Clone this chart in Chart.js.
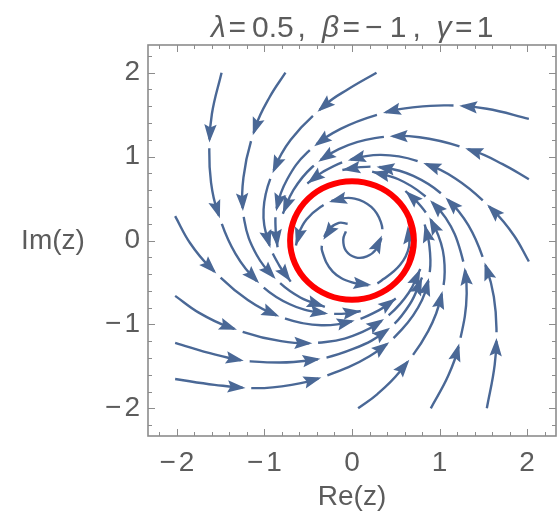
<!DOCTYPE html>
<html><head><meta charset="utf-8">
<script src="https://cdn.jsdelivr.net/npm/chart.js@4.4.1/dist/chart.umd.min.js"></script>
<style>html,body{margin:0;padding:0;background:#fff;overflow:hidden}#wrap{width:557px;height:524px;position:relative}</style>
</head><body><div id="wrap"><canvas id="c" width="557" height="524"></canvas></div>
<script>
// ---------------- data ----------------
const titlePieces = ["λ", "=", "0.5", ",", "β", "=", "−", "1", ",", "γ", "=", "1"];
const titleItalic = [true, false, false, false, true, false, false, false, false, true, false, false];
const xLabel = "Re(z)";
const yLabel = "Im(z)";
const xTickValues = [-2, -1, 0, 1, 2];
const xTickLabels = ["−2", "−1", "0", "1", "2"];
const yTickValues = [-2, -1, 0, 1, 2];
const yTickLabels = ["−2", "−1", "0", "1", "2"];
const minorTickValues = [-2.2,-1.8,-1.6,-1.4,-1.2,-0.8,-0.6,-0.4,-0.2,0.2,0.4,0.6,0.8,1.2,1.4,1.6,1.8,2.2];

// streamlines entering from the top edge
const streamT1 = [[-1.49,2.0],[-1.60,1.51],[-1.63,1.07],[-1.61,0.69],[-1.54,0.36],[-1.33,-0.16],[-1.04,-0.53],[-0.71,-0.76],[-0.37,-0.86],[-0.05,-0.87],[0.10,-0.84]];
const streamT2 = [[-0.76,2.0],[-0.94,1.71],[-1.10,1.36],[-1.24,0.75],[-1.23,0.24],[-1.09,-0.17],[-0.86,-0.47],[-0.59,-0.68],[-0.31,-0.79]];
const streamT3 = [[0.28,2.0],[-0.05,1.80],[-0.29,1.63],[-0.70,1.20],[-0.92,0.77],[-1.01,0.37],[-0.96,0.0],[-0.83,-0.30],[-0.70,-0.49]];
// streamlines entering from the right edge
const streamR1 = [[2.02,1.45],[1.54,1.57],[1.10,1.61],[0.72,1.59],[0.39,1.53],[-0.13,1.33],[-0.51,1.05],[-0.74,0.73],[-0.86,0.39],[-0.87,0.07],[-0.85,-0.08]];
const streamR2 = [[2.02,0.73],[1.72,0.91],[1.38,1.07],[0.77,1.23],[0.26,1.22],[-0.15,1.09],[-0.46,0.87],[-0.67,0.60],[-0.79,0.32]];
const streamR3 = [[2.02,-0.25],[1.85,0.06],[1.62,0.35],[1.18,0.74],[0.74,0.95],[0.33,1.02],[-0.03,0.96],[-0.33,0.82],[-0.51,0.68]];
// streamlines entering from the bottom edge
const streamB1 = [[1.54,-2.0],[1.63,-1.48],[1.65,-1.05],[1.62,-0.67],[1.54,-0.34],[1.33,0.18],[1.04,0.54],[0.70,0.77],[0.36,0.87],[0.04,0.87],[-0.11,0.84]];
const streamB2 = [[0.90,-2.0],[1.10,-1.61],[1.22,-1.25],[1.31,-0.63],[1.24,-0.13],[1.07,0.27],[0.81,0.55],[0.53,0.73],[0.23,0.82]];
const streamB3 = [[0.07,-2.0],[0.29,-1.83],[0.54,-1.57],[0.87,-1.08],[1.03,-0.62],[1.05,-0.20],[0.95,0.15],[0.77,0.43],[0.61,0.59]];
// streamlines entering from the left edge
const streamL1 = [[-2.02,-1.65],[-1.57,-1.72],[-1.09,-1.76],[-0.69,-1.72],[-0.34,-1.63],[0.20,-1.38],[0.57,-1.06],[0.80,-0.71],[0.89,-0.36],[0.88,-0.03],[0.83,0.19]];
const streamL2 = [[-2.02,-1.22],[-1.56,-1.36],[-1.16,-1.44],[-0.49,-1.43],[0.02,-1.29],[0.41,-1.06],[0.66,-0.76],[0.80,-0.44]];
const streamL3 = [[-2.02,-0.66],[-1.75,-0.86],[-1.41,-1.03],[-0.81,-1.20],[-0.30,-1.21],[0.12,-1.09],[0.43,-0.88],[0.65,-0.62],[0.78,-0.34]];
const streamL4 = [[-2.02,0.29],[-1.85,-0.03],[-1.63,-0.31],[-1.19,-0.71],[-0.76,-0.93],[-0.35,-1.01],[0.01,-0.96],[0.31,-0.83],[0.50,-0.69]];
// streamlines inside the limit cycle (spiralling outwards)
const innerI1 = [[-0.07,0.11],[-0.10,0.01],[-0.07,-0.12],[0.04,-0.20],[0.17,-0.19],[0.28,-0.10],[0.34,0.05],[0.33,0.22],[0.22,0.40],[0.03,0.50],[-0.17,0.49],[-0.36,0.40],[-0.52,0.25],[-0.61,0.08],[-0.64,-0.06]];
const innerI2 = [[-0.05,0.20],[-0.15,0.21],[-0.27,0.13],[-0.33,0.0],[-0.34,-0.13],[-0.22,-0.37],[0.0,-0.50],[0.23,-0.53],[0.36,-0.46],[0.55,-0.29],[0.65,-0.08],[0.64,0.15],[0.63,0.21]];
// the red limit cycle (radius ≈ 0.707)
const limitCycle = [[0.653,-0.271],[0.707,0],[0.653,0.271],[0.5,0.5],[0.271,0.653],[0,0.707],[-0.271,0.653],[-0.5,0.5],[-0.653,0.271],[-0.707,0],[-0.653,-0.271],[-0.5,-0.5],[-0.271,-0.653],[0,-0.707],[0.271,-0.653],[0.5,-0.5],[0.653,-0.271],[0.707,0],[0.653,0.271]];

const streams = [
  {pts: streamT1, off: 0}, {pts: streamT2, off: 0}, {pts: streamT3, off: 0},
  {pts: streamR1, off: 0}, {pts: streamR2, off: 0}, {pts: streamR3, off: 0},
  {pts: streamB1, off: 0}, {pts: streamB2, off: 0}, {pts: streamB3, off: 0},
  {pts: streamL1, off: 0}, {pts: streamL2, off: 0}, {pts: streamL3, off: 0}, {pts: streamL4, off: 0},
  {pts: innerI1, off: 0}, {pts: innerI2, off: 38}
];

// ---------------- styling / layout ----------------
const STREAM_COLOR = '#4a6896';
const DASH = 68, GAP = 9;
const FONT = '"Liberation Sans", Arial, sans-serif';
const TEXT_COLOR = '#5c5c5c';
const FRAME_COLOR = '#8c8c8c';
// horizontal placement of each title piece relative to the plot centre (Mathematica-like spacing)
const titleLayout = [-141, -123.5, -100, -54.5, -30, -9.5, 13, 37.7, 60.5, 84.5, 103, 124.7];

const toXY = a => a.map(p => ({x: p[0], y: p[1]}));

const datasets = [{
  data: toXY(limitCycle), showLine: true, borderColor: '#ff0000', borderWidth: 6,
  pointRadius: 0, tension: 0.34, fill: false, arrows: false
}];
streams.forEach(s => datasets.push({
  data: toXY(s.pts), showLine: true, borderColor: STREAM_COLOR, borderWidth: 2.4,
  borderDash: [DASH, GAP], borderDashOffset: s.off, pointRadius: 0, tension: 0.4,
  fill: false, arrows: true
}));

function samplePath(meta) {
  const pts = meta.data, out = [];
  for (let i = 0; i < pts.length; i++) {
    const p = pts[i];
    if (i === 0) { out.push([p.x, p.y]); continue; }
    const q = pts[i - 1];
    const cp = q.cp2x !== undefined && p.cp1x !== undefined;
    const N = 30;
    for (let k = 1; k <= N; k++) {
      const t = k / N, m = 1 - t;
      let x, y;
      if (cp) {
        x = m*m*m*q.x + 3*m*m*t*q.cp2x + 3*m*t*t*p.cp1x + t*t*t*p.x;
        y = m*m*m*q.y + 3*m*m*t*q.cp2y + 3*m*t*t*p.cp1y + t*t*t*p.y;
      } else { x = q.x + (p.x - q.x) * t; y = q.y + (p.y - q.y) * t; }
      out.push([x, y]);
    }
  }
  const cum = [0];
  for (let i = 1; i < out.length; i++) cum.push(cum[i-1] + Math.hypot(out[i][0]-out[i-1][0], out[i][1]-out[i-1][1]));
  return {pts: out, cum};
}
function pointAt(path, s) {
  const {pts, cum} = path;
  if (s <= 0) return pts[0];
  const n = cum.length;
  if (s >= cum[n-1]) return pts[n-1];
  let i = 1; while (cum[i] < s) i++;
  const f = (s - cum[i-1]) / ((cum[i] - cum[i-1]) || 1);
  return [pts[i-1][0] + (pts[i][0]-pts[i-1][0]) * f, pts[i-1][1] + (pts[i][1]-pts[i-1][1]) * f];
}
function drawArrow(ctx, path, tipS) {
  const L = 18, W = 6.2;
  const tip = pointAt(path, tipS), back = pointAt(path, tipS - L);
  let dx = tip[0] - back[0], dy = tip[1] - back[1];
  const d = Math.hypot(dx, dy) || 1; dx /= d; dy /= d;
  const bx = tip[0] - dx * L, by = tip[1] - dy * L;
  const nx = tip[0] - dx * (L - 3), ny = tip[1] - dy * (L - 3);
  ctx.beginPath();
  ctx.moveTo(tip[0], tip[1]);
  ctx.lineTo(bx - dy * W, by + dx * W);
  ctx.lineTo(nx, ny);
  ctx.lineTo(bx + dy * W, by - dx * W);
  ctx.closePath();
  ctx.fill();
}

const arrowPlugin = {
  id: 'arrows',
  afterDatasetDraw(chart, args) {
    const ds = chart.data.datasets[args.index];
    if (!ds.arrows) return;
    const path = samplePath(args.meta);
    const total = path.cum[path.cum.length - 1];
    const off = ds.borderDashOffset || 0;
    const P = DASH + GAP;
    const ctx = chart.ctx;
    ctx.save();
    ctx.fillStyle = ds.borderColor;
    let s = DASH - off;
    while (s <= 0) s += P;
    for (; s <= total; s += P) drawArrow(ctx, path, Math.min(s + 3, total));
    const pos = (total + off) % P;
    if (pos < DASH && pos >= 25) drawArrow(ctx, path, total);
    ctx.restore();
  }
};

function drawMinusText(ctx, label, x, y, align) {
  const extra = 3;
  const parts = label.startsWith('−') ? ['−', label.slice(1)] : [label];
  const widths = parts.map(p => ctx.measureText(p).width);
  const total = widths.reduce((a, b) => a + b, 0) + (parts.length > 1 ? extra : 0);
  let start = align === 'center' ? x - total / 2 : (align === 'right' ? x - total : x);
  ctx.textAlign = 'left';
  parts.forEach((p, i) => { ctx.fillText(p, start, y); start += widths[i] + extra; });
}

const framePlugin = {
  id: 'frame',
  afterDraw(chart) {
    const ctx = chart.ctx, ca = chart.chartArea;
    const sx = chart.scales.x, sy = chart.scales.y;
    ctx.save();
    ctx.strokeStyle = FRAME_COLOR;
    ctx.lineWidth = 1.6;
    ctx.strokeRect(ca.left, ca.top, ca.right - ca.left, ca.bottom - ca.top);
    ctx.lineWidth = 1;
    const tick = (v, len) => {
      const px = Math.round(sx.getPixelForValue(v)) + 0.5;
      const py = Math.round(sy.getPixelForValue(v)) + 0.5;
      ctx.beginPath();
      ctx.moveTo(px, ca.bottom); ctx.lineTo(px, ca.bottom - len);
      ctx.moveTo(px, ca.top); ctx.lineTo(px, ca.top + len);
      ctx.moveTo(ca.left, py); ctx.lineTo(ca.left + len, py);
      ctx.moveTo(ca.right, py); ctx.lineTo(ca.right - len, py);
      ctx.stroke();
    };
    xTickValues.forEach(v => tick(v, 7));
    minorTickValues.forEach(v => tick(v, 4));

    ctx.fillStyle = TEXT_COLOR;
    ctx.font = '28px ' + FONT;
    ctx.textBaseline = 'middle';
    xTickValues.forEach((v, i) => drawMinusText(ctx, xTickLabels[i], sx.getPixelForValue(v), 463, 'center'));
    yTickValues.forEach((v, i) => drawMinusText(ctx, yTickLabels[i], 140, sy.getPixelForValue(v), 'right'));

    ctx.textAlign = 'center';
    ctx.fillText(xLabel, (ca.left + ca.right) / 2, 497);
    ctx.fillText(yLabel, 53, 241);

    // title with italic Greek letters
    ctx.textBaseline = 'alphabetic';
    ctx.textAlign = 'left';
    const cx = (ca.left + ca.right) / 2;
    titlePieces.forEach((t, i) => {
      ctx.font = (titleItalic[i] ? 'italic ' : '') + '30px ' + FONT;
      ctx.fillText(t, cx + titleLayout[i], 36.5);
    });
    ctx.restore();
  }
};

new Chart(document.getElementById('c'), {
  type: 'scatter',
  data: {datasets},
  options: {
    responsive: false, animation: false, devicePixelRatio: 1,
    layout: {padding: {left: 148, right: 1, top: 45, bottom: 88}},
    scales: {
      x: {type: 'linear', min: -2.33, max: 2.33, display: false},
      y: {type: 'linear', min: -2.33, max: 2.33, display: false}
    },
    plugins: {legend: {display: false}, tooltip: {enabled: false}, title: {display: false}},
    events: []
  },
  plugins: [arrowPlugin, framePlugin]
});
</script></body></html>
